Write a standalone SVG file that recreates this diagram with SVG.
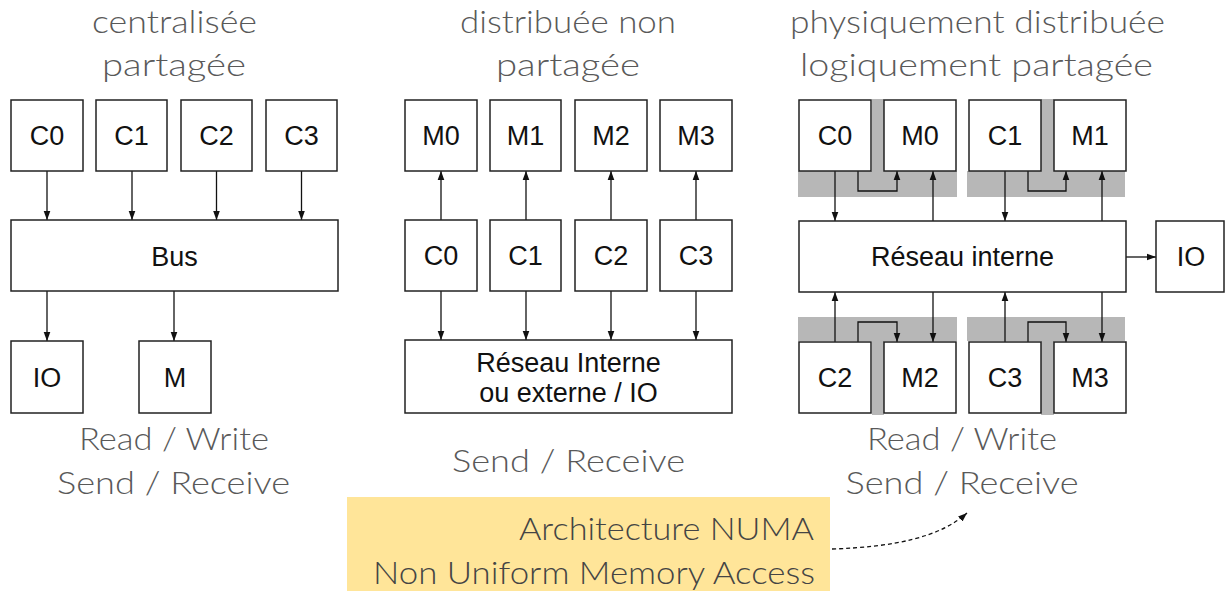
<svg xmlns="http://www.w3.org/2000/svg" width="1226" height="591" viewBox="0 0 1226 591">
  <defs>
    <marker id="ah" viewBox="0 0 10 10" refX="10" refY="5" markerWidth="9" markerHeight="9" orient="auto" markerUnits="userSpaceOnUse">
      <path d="M0,1.3 L10,5 L0,8.7 z" fill="#111"/>
    </marker>
    <style>
      .box { fill: #fff; stroke: #222; stroke-width: 1.5; }
      .lbl { font-family: "Liberation Sans", Arial, sans-serif; font-size: 27px; fill: #111; text-anchor: middle; }
      .cap { font-family: Lato, "Open Sans", "Liberation Sans", sans-serif; font-weight: 300; font-size: 32px; fill: #595959; text-anchor: middle; }
      .note { font-family: Lato, "Open Sans", "Liberation Sans", sans-serif; font-weight: 300; font-size: 32px; fill: #444; text-anchor: end; }
      .arr { fill: none; stroke: #111; stroke-width: 1.3; marker-end: url(#ah); }
      .shade { fill: #b7b7b7; }
    </style>
  </defs>
  <rect width="1226" height="591" fill="#fff"/>

  <!-- column titles and access modes -->
  <g id="titles">
    <text class="cap" x="174.5" y="33" textLength="165" lengthAdjust="spacingAndGlyphs">centralisée</text>
    <text class="cap" x="174" y="76" textLength="144" lengthAdjust="spacingAndGlyphs">partagée</text>
    <text class="cap" x="568" y="33" textLength="216" lengthAdjust="spacingAndGlyphs">distribuée non</text>
    <text class="cap" x="568" y="76" textLength="144" lengthAdjust="spacingAndGlyphs">partagée</text>
    <text class="cap" x="977.5" y="33" textLength="375" lengthAdjust="spacingAndGlyphs">physiquement distribuée</text>
    <text class="cap" x="976.5" y="76" textLength="353" lengthAdjust="spacingAndGlyphs">logiquement partagée</text>
    <text class="cap" x="174" y="450" textLength="190" lengthAdjust="spacingAndGlyphs">Read / Write</text>
    <text class="cap" x="173.5" y="494" textLength="233" lengthAdjust="spacingAndGlyphs">Send / Receive</text>
    <text class="cap" x="568.5" y="472" textLength="233" lengthAdjust="spacingAndGlyphs">Send / Receive</text>
    <text class="cap" x="962" y="450" textLength="190" lengthAdjust="spacingAndGlyphs">Read / Write</text>
    <text class="cap" x="962" y="494" textLength="233" lengthAdjust="spacingAndGlyphs">Send / Receive</text>
  </g>

  <!-- shaded local links behind the right column -->
  <g id="local-shading">
    <rect class="shade" x="798" y="171" width="159" height="26"/>
    <rect class="shade" x="872" y="99" width="12" height="72"/>
    <rect class="shade" x="967" y="171" width="158" height="26"/>
    <rect class="shade" x="1041" y="99" width="13" height="72"/>
    <rect class="shade" x="798" y="317" width="159" height="24"/>
    <rect class="shade" x="872" y="341" width="12" height="74"/>
    <rect class="shade" x="967" y="317" width="158" height="24"/>
    <rect class="shade" x="1041" y="341" width="13" height="74"/>
  </g>

  <!-- connectors -->
  <g id="connectors">
    <!-- centralised: cores to bus, bus to IO and memory -->
    <line class="arr" x1="47" y1="171" x2="47" y2="220"/>
    <line class="arr" x1="132" y1="171" x2="132" y2="220"/>
    <line class="arr" x1="216.5" y1="171" x2="216.5" y2="220"/>
    <line class="arr" x1="301.5" y1="171" x2="301.5" y2="220"/>
    <line class="arr" x1="47" y1="291" x2="47" y2="341"/>
    <line class="arr" x1="174" y1="291" x2="174" y2="341"/>
    <!-- distributed: cores to private memory and network -->
    <line class="arr" x1="441" y1="220" x2="441" y2="171"/>
    <line class="arr" x1="526" y1="220" x2="526" y2="171"/>
    <line class="arr" x1="611" y1="220" x2="611" y2="171"/>
    <line class="arr" x1="696" y1="220" x2="696" y2="171"/>
    <line class="arr" x1="441" y1="291" x2="441" y2="340"/>
    <line class="arr" x1="526" y1="291" x2="526" y2="340"/>
    <line class="arr" x1="611" y1="291" x2="611" y2="340"/>
    <line class="arr" x1="696" y1="291" x2="696" y2="340"/>
    <!-- NUMA: local paths -->
    <polyline class="arr" points="858,171 858,191 897,191 897,171"/>
    <polyline class="arr" points="1028,171 1028,191 1066,191 1066,171"/>
    <polyline class="arr" points="858,342 858,322 897,322 897,342"/>
    <polyline class="arr" points="1028,342 1028,322 1066,322 1066,342"/>
    <!-- NUMA: network paths -->
    <line class="arr" x1="835" y1="171" x2="835" y2="221"/>
    <line class="arr" x1="933" y1="221" x2="933" y2="171"/>
    <line class="arr" x1="1005" y1="171" x2="1005" y2="221"/>
    <line class="arr" x1="1102" y1="221" x2="1102" y2="171"/>
    <line class="arr" x1="835" y1="342" x2="835" y2="292"/>
    <line class="arr" x1="933" y1="292" x2="933" y2="342"/>
    <line class="arr" x1="1005" y1="342" x2="1005" y2="292"/>
    <line class="arr" x1="1102" y1="292" x2="1102" y2="342"/>
    <line class="arr" x1="1126" y1="257" x2="1156" y2="257"/>
  </g>

  <!-- centralised shared -->
  <g id="a-c0"><rect class="box" x="11" y="100" width="72" height="71"/><text class="lbl" x="47" y="145">C0</text></g>
  <g id="a-c1"><rect class="box" x="96" y="100" width="71" height="71"/><text class="lbl" x="131.5" y="145">C1</text></g>
  <g id="a-c2"><rect class="box" x="181" y="100" width="71" height="71"/><text class="lbl" x="216.5" y="145">C2</text></g>
  <g id="a-c3"><rect class="box" x="266" y="100" width="71" height="71"/><text class="lbl" x="301.5" y="145">C3</text></g>
  <g id="a-bus"><rect class="box" x="11" y="220" width="327" height="71"/><text class="lbl" x="174.5" y="266">Bus</text></g>
  <g id="a-io"><rect class="box" x="11" y="341" width="72" height="72"/><text class="lbl" x="47" y="387">IO</text></g>
  <g id="a-m"><rect class="box" x="139" y="341" width="72" height="72"/><text class="lbl" x="175" y="387">M</text></g>

  <!-- distributed not shared -->
  <g id="b-m0"><rect class="box" x="405" y="100" width="72" height="71"/><text class="lbl" x="441" y="145">M0</text></g>
  <g id="b-m1"><rect class="box" x="490" y="100" width="71" height="71"/><text class="lbl" x="525.5" y="145">M1</text></g>
  <g id="b-m2"><rect class="box" x="575" y="100" width="72" height="71"/><text class="lbl" x="611" y="145">M2</text></g>
  <g id="b-m3"><rect class="box" x="660" y="100" width="72" height="71"/><text class="lbl" x="696" y="145">M3</text></g>
  <g id="b-c0"><rect class="box" x="405" y="220" width="72" height="71"/><text class="lbl" x="441" y="265">C0</text></g>
  <g id="b-c1"><rect class="box" x="490" y="220" width="71" height="71"/><text class="lbl" x="525.5" y="265">C1</text></g>
  <g id="b-c2"><rect class="box" x="575" y="220" width="72" height="71"/><text class="lbl" x="611" y="265">C2</text></g>
  <g id="b-c3"><rect class="box" x="660" y="220" width="72" height="71"/><text class="lbl" x="696" y="265">C3</text></g>
  <g id="b-net"><rect class="box" x="405" y="340" width="327" height="73"/>
    <text class="lbl" x="568.5" y="372">Réseau Interne</text>
    <text class="lbl" x="568.5" y="402">ou externe / IO</text>
  </g>

  <!-- physically distributed, logically shared -->
  <g id="c-c0"><rect class="box" x="799" y="100" width="72" height="71"/><text class="lbl" x="835" y="145">C0</text></g>
  <g id="c-m0"><rect class="box" x="884" y="100" width="72" height="71"/><text class="lbl" x="920" y="145">M0</text></g>
  <g id="c-c1"><rect class="box" x="969" y="100" width="72" height="71"/><text class="lbl" x="1005" y="145">C1</text></g>
  <g id="c-m1"><rect class="box" x="1054" y="100" width="72" height="71"/><text class="lbl" x="1090" y="145">M1</text></g>
  <g id="c-net"><rect class="box" x="799" y="221" width="327" height="71"/><text class="lbl" x="962.5" y="266" font-size="28">Réseau interne</text></g>
  <g id="c-io"><rect class="box" x="1156" y="221" width="68" height="71"/><text class="lbl" x="1191" y="266">IO</text></g>
  <g id="c-c2"><rect class="box" x="799" y="342" width="72" height="71"/><text class="lbl" x="835" y="387">C2</text></g>
  <g id="c-m2"><rect class="box" x="884" y="342" width="72" height="71"/><text class="lbl" x="920" y="387">M2</text></g>
  <g id="c-c3"><rect class="box" x="969" y="342" width="72" height="71"/><text class="lbl" x="1005" y="387">C3</text></g>
  <g id="c-m3"><rect class="box" x="1054" y="342" width="72" height="71"/><text class="lbl" x="1090" y="387">M3</text></g>

  <!-- NUMA note -->
  <g id="numa-note">
    <rect x="347" y="497" width="483" height="94" fill="#ffe599"/>
    <text class="note" x="814" y="540" textLength="295" lengthAdjust="spacingAndGlyphs">Architecture NUMA</text>
    <text class="note" x="815" y="584" textLength="442" lengthAdjust="spacingAndGlyphs">Non Uniform Memory Access</text>
  </g>
  <g id="numa-link">
    <path class="arr" d="M832,549 C895,547 940,537 967,513" stroke-dasharray="4 3"/>
  </g>
</svg>
